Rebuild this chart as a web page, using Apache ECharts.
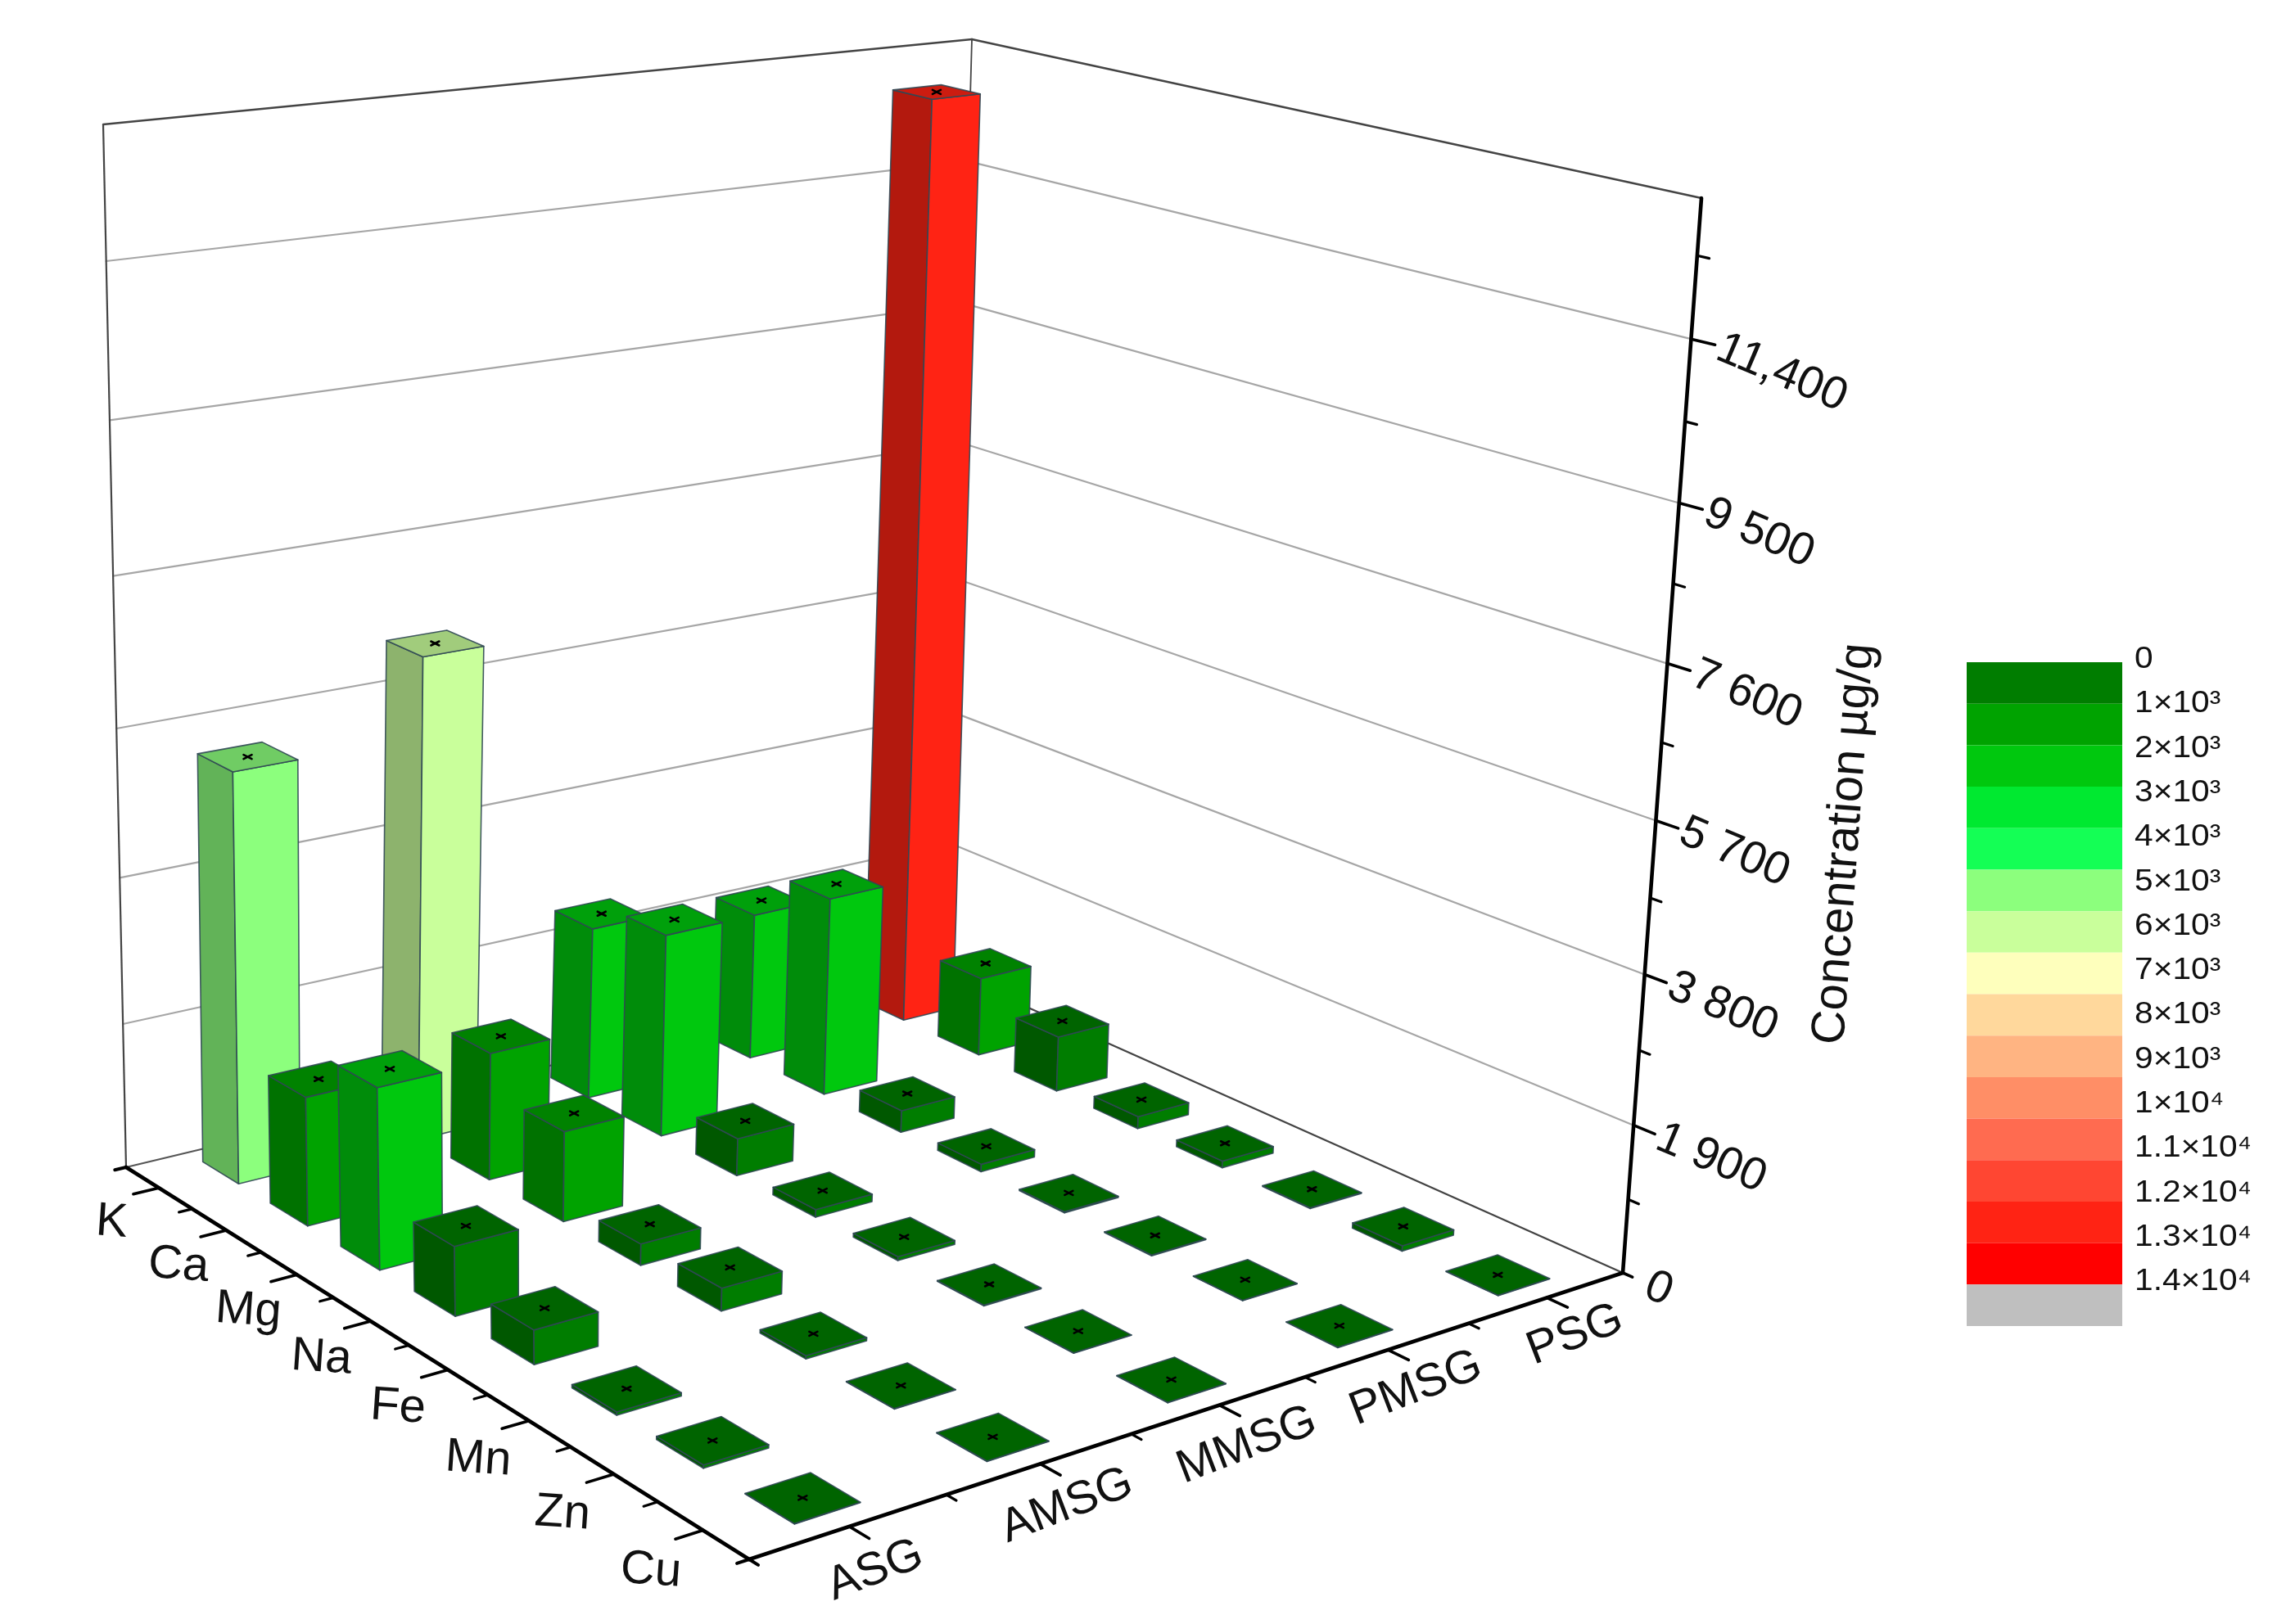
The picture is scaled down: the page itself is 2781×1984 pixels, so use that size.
<!DOCTYPE html>
<html><head><meta charset="utf-8">
<style>html,body{margin:0;padding:0;background:#fff}#c{width:2781px;height:1984px}</style>
<script src="https://cdn.jsdelivr.net/npm/echarts@6/dist/echarts.min.js"></script>
</head><body><div id="c"></div>
<script>
const samples = ['ASG','AMSG','MMSG','PMSG','PSG'];
const elements = ['K','Ca','Mg','Na','Fe','Mn','Zn','Cu'];
const K  = [5330, 6350, 2320, 2010, 12520];
const Ca = [1670, 1675, 2705, 2695, 1085];
const Mg = [2320, 1175,  495,  295,  755];
const Na = [ 880,  275,  100,  100,  165];
const Fe = [ 430,  290,   50,   15,   90];
const Mn = [  40,   40,   10,   10,   10];
const Zn = [  40,    5,    5,    5,   70];
const Cu = [   5,    5,    5,    5,    5];
const rows = [K, Ca, Mg, Na, Fe, Mn, Zn, Cu];
const zMax = 13000;
const zTicks = [0, 1900, 3800, 5700, 7600, 9500, 11400];
const zTickLabels = ['0', '1 900', '3 800', '5 700', '7 600', '9 500', '11,400'];
const zMinorTicks = [950, 2850, 4750, 6650, 8550, 10450, 12350];
const zTitle = 'Concentration µg/g';
const legendColors = ['#007D00','#00A300','#00C80E','#00E930','#14FF55','#8CFF7D','#C9FF9B','#FEFFBC','#FFD89C','#FFB482','#FF8E66','#FF6B50','#FF4632','#FF2314','#FF0000','#BFBFBF'];
const legendLabels = ['0','1×10³','2×10³','3×10³','4×10³','5×10³','6×10³','7×10³','8×10³','9×10³','1×10⁴','1.1×10⁴','1.2×10⁴','1.3×10⁴','1.4×10⁴'];
const colorLevels = [0,1000,2000,3000,4000,5000,6000,7000,8000,9000,10000,11000,11500,12000];

// camera: screen anchors of the plot box, floor and ceiling
const cL=[154,1426], cB=[1155,1186], cR=[1982,1555], cF=[915,1905];
const tL=[126,152], tB=[1187,48], tR=[2078,242], tF=[942,456];
const G={left:100,top:100,width:1000,height:1000};

function quadMat(p0,p1,p2,p3){
  const [x0,y0]=p0,[x1,y1]=p1,[x2,y2]=p2,[x3,y3]=p3;
  const dx1=x1-x2,dx2=x3-x2,sx=x0-x1+x2-x3,dy1=y1-y2,dy2=y3-y2,sy=y0-y1+y2-y3;
  const den=dx1*dy2-dx2*dy1;
  const g=(sx*dy2-dx2*sy)/den,h=(dx1*sy-sx*dy1)/den;
  return {a:x1-x0+g*x1,b:x3-x0+h*x3,c:x0,d:y1-y0+g*y1,e:y3-y0+h*y3,f:y0,g,h};
}
const M0=quadMat(cL,cB,cR,cF), M1=quadMat(tL,tB,tR,tF);
const mapQ=(M,u,v)=>{const W=M.g*u+M.h*v+1;return [(M.a*u+M.b*v+M.c)/W,(M.d*u+M.e*v+M.f)/W];};
const PERSP=0.075;
function proj(u,v,w){
  const a=mapQ(M0,u,v),b=mapQ(M1,u,v),f=w/(1+PERSP*(1-w));
  return [a[0]+(b[0]-a[0])*f,a[1]+(b[1]-a[1])*f];
}
const uOf=x=>(x-G.left)/G.width, wOf=y=>(G.top+G.height-y)/G.height;
function shade(hex,k){
  const n=parseInt(hex.slice(1),16);
  const c=s=>Math.round(((n>>s)&255)*k);
  return 'rgb('+c(16)+','+c(8)+','+c(0)+')';
}
function bandColor(val){
  let i=0;colorLevels.forEach((l,k)=>{if(val>=l)i=k;});
  return legendColors[i];
}
const line=(a,b,color,width)=>({type:'line',shape:{x1:a[0],y1:a[1],x2:b[0],y2:b[1]},style:{stroke:color,lineWidth:width,lineCap:'round'},silent:true});
const poly=(pts,fill,edge)=>({type:'polygon',shape:{points:pts},style:{fill,stroke:edge,lineWidth:1.6,lineJoin:'round'},silent:true});
const txt=(p,text,size,rot,align,extra)=>Object.assign({type:'text',x:p[0],y:p[1],rotation:rot,style:{text,fontFamily:'Liberation Sans',fontSize:size,fill:'#111',align,verticalAlign:'middle'},silent:true},extra||{});
const rad=d=>d*Math.PI/180;

function renderFrame(params,api){
  const wv=v=>wOf(api.coord([0,v])[1]);
  const ch=[];
  zTicks.slice(1).forEach(v=>{
    const w=wv(v);
    ch.push(line(proj(0,0,w),proj(1,0,w),'#a6a6a6',2.2));
    ch.push(line(proj(1,0,w),proj(1,1,w),'#a6a6a6',2.2));
  });
  ch.push(line(proj(0,0,0),proj(1,0,0),'#555',2.2));
  ch.push(line(proj(1,0,0),proj(1,1,0),'#444',2.4));
  ch.push(line(proj(0,0,0),proj(0,0,1),'#444',2.2));
  ch.push(line(proj(1,0,0),proj(1,0,1),'#444',1.8));
  ch.push(line(proj(0,0,1),proj(1,0,1),'#444',2.4));
  ch.push(line(proj(1,0,1),proj(1,1,1),'#444',2.6));
  return {type:'group',children:ch};
}
function renderAxes(params,api){
  const ch=[];
  ch.push(line(proj(-0.012,0,0),proj(0,0,0),'#000',4));
  ch.push(line(proj(0,0,0),proj(0,1,0),'#000',4.6));
  ch.push(line(proj(-0.012,1,0),proj(0,1,0),'#000',4));
  ch.push(line(proj(0,1,0),proj(0,1.012,0),'#000',4));
  ch.push(line(proj(0,1,0),proj(1,1,0),'#000',4.6));
  ch.push(line(proj(1,1,0),proj(1,1,1),'#000',4.6));
  ch.push(line(proj(1,1,0),proj(1,1.012,0),'#000',3.6));
  elements.forEach((e,j)=>{
    const c=(j+.5)/8;
    ch.push(line(proj(0,c,0),proj(-0.027,c,0),'#000',3.6));
    if(j>0)ch.push(line(proj(0,j/8,0),proj(-0.014,j/8,0),'#000',3.2));
    const p=proj(-0.062,c,0);
    ch.push(txt([p[0]+14,p[1]+25],e,58,rad(-4),'center'));
  });
  samples.forEach((s,i)=>{
    const c=api.coord([i,0]);const u=uOf(c[0]);
    ch.push(line(proj(u,1,0),proj(u,1.026,0),'#000',3.6));
    if(i>0)ch.push(line(proj(i/5,1,0),proj(i/5,1.013,0),'#000',3.2));
    const p=proj(u,1.072,0);
    ch.push(txt([p[0]-36,p[1]+13],s,57,rad(21),'center'));
  });
  zTicks.forEach((v,k)=>{
    const w=wOf(api.coord([0,v])[1]);
    if(k>0)ch.push(line(proj(1,1,w),proj(1,1.026,w),'#000',3.6));
    const p=proj(1,1.03,w);
    ch.push(txt([p[0],p[1]+1],zTickLabels[k],56,rad(-23),'left'));
  });
  zMinorTicks.forEach(v=>{
    const w=wOf(api.coord([0,v])[1]);
    ch.push(line(proj(1,1,w),proj(1,1.013,w),'#000',3.2));
  });
  ch.push(txt([2253,1031],zTitle,58,rad(85.8),'center'));
  return {type:'group',children:ch};
}
const BAR=0.335; // bar width as a share of a category band
function makeBarRenderer(j){
  return function(params,api){
    const idx=api.value(0),val=api.value(1);
    const base=api.coord([idx,0]),top=api.coord([idx,val]);
    const u=uOf(base[0]),w=wOf(top[1]);
    const hu=api.size([1,0])[0]/G.width*BAR/2;
    const hv=BAR*0.2/2;
    const v=(j+.5)/8;
    const col=bandColor(val);
    const edge='rgba(48,72,84,0.9)';
    const A=proj(u-hu,v+hv,0),B=proj(u+hu,v+hv,0),C=proj(u-hu,v-hv,0);
    const A2=proj(u-hu,v+hv,w),B2=proj(u+hu,v+hv,w),C2=proj(u-hu,v-hv,w),D2=proj(u+hu,v-hv,w);
    const m=proj(u,v,w);
    return {type:'group',children:[
      poly([C,A,A2,C2],shade(col,0.7),edge),
      poly([A,B,B2,A2],col,edge),
      poly([A2,B2,D2,C2],shade(col,0.8),edge),
      line([m[0]-5,m[1]-2.5],[m[0]+5,m[1]+2.5],'#000',2.6),
      line([m[0]-5,m[1]+2.5],[m[0]+5,m[1]-2.5],'#000',2.6)
    ]};
  };
}
const order=samples.map((s,i)=>samples.length-1-i);
const barSeries=rows.map((vals,j)=>({
  type:'custom',name:elements[j],xAxisIndex:0,yAxisIndex:0,clip:false,animation:false,silent:true,z:3,progressive:0,
  renderItem:makeBarRenderer(j),
  data:order.map(i=>[i,vals[i]])
}));
const option={
  backgroundColor:'#fff',animation:false,tooltip:{show:false},
  grid:[
    Object.assign({show:false},G),
    {show:false,left:2402,top:809,width:190,height:811},
    {show:false,left:2607,top:806,width:100,height:760}
  ],
  xAxis:[
    {gridIndex:0,type:'category',data:samples,show:false},
    {gridIndex:1,type:'value',min:0,max:1,show:false},
    {gridIndex:2,type:'value',min:0,max:1,show:false}
  ],
  yAxis:[
    {gridIndex:0,type:'value',min:0,max:zMax,show:false},
    {gridIndex:1,type:'category',inverse:true,data:legendColors.map((c,i)=>i),show:false},
    {gridIndex:2,type:'value',inverse:true,min:0,max:legendLabels.length-1,show:false}
  ],
  series:[
    {type:'custom',xAxisIndex:0,yAxisIndex:0,clip:false,silent:true,z:1,renderItem:renderFrame,data:[[0,0]]},
    {type:'custom',xAxisIndex:0,yAxisIndex:0,clip:false,silent:true,z:2,renderItem:renderAxes,data:[[0,0]]},
    ...barSeries,
    {type:'bar',xAxisIndex:1,yAxisIndex:1,barWidth:'100%',silent:true,z:2,
     data:legendColors.map(c=>({value:1,itemStyle:{color:c}}))},
    {type:'custom',xAxisIndex:2,yAxisIndex:2,clip:false,silent:true,z:2,
     renderItem:function(params,api){
       const i=api.value(1),p=api.coord([0,i]);
       return txt(p,legendLabels[i],37,0,'left',{scaleX:1.1});
     },
     data:legendLabels.map((l,i)=>[0,i])}
  ]
};
const chart=echarts.init(document.getElementById('c'),null,{renderer:'canvas',width:2781,height:1984});
chart.setOption(option);
</script></body></html>
